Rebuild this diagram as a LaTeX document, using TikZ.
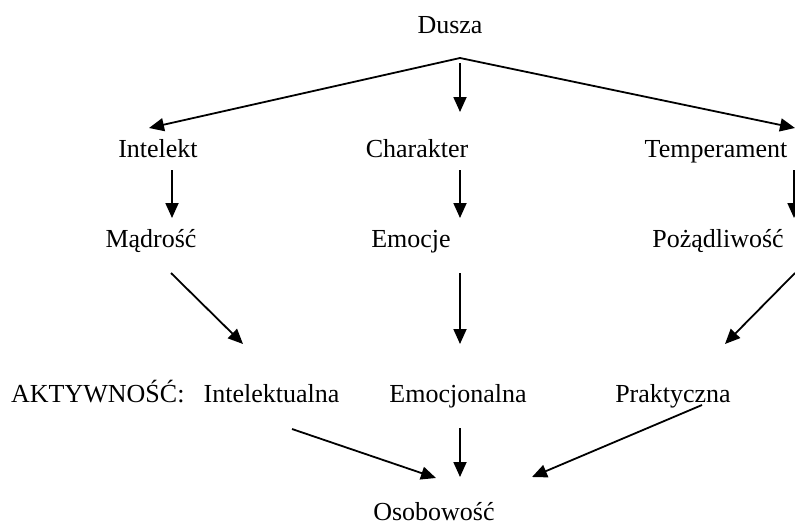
\documentclass[tikz,border=0pt]{standalone}
\usepackage{fontspec}
\setmainfont{Liberation Serif}
\usetikzlibrary{arrows.meta}
\begin{document}
\begin{tikzpicture}[x=1pt,y=-1pt,
  lbl/.style={anchor=base, inner sep=0pt, font=\fontsize{26}{30}\selectfont},
  arr/.style={line width=1.8pt, -{Triangle[length=15pt,width=13pt]}}]
\useasboundingbox (0,0) rectangle (795,525);
% texts
\node[lbl] (dusza) at (450,33) {Dusza};
\node[lbl] (intelekt) at (158,157) {Intelekt};
\node[lbl] (charakter) at (417,157) {Charakter};
\node[lbl] (temperament) at (716,157) {Temperament};
\node[lbl] (madrosc) at (151,247) {Mądrość};
\node[lbl] (emocje) at (411,247) {Emocje};
\node[lbl] (pozadliwosc) at (718,247) {Pożądliwość};
\node[lbl, anchor=base west] (aktywnosc) at (11,402) {AKTYWNOŚĆ:};
\node[lbl] (intelektualna) at (271.5,402) {Intelektualna};
\node[lbl] (emocjonalna) at (458,402) {Emocjonalna};
\node[lbl] (praktyczna) at (673,402) {Praktyczna};
\node[lbl] (osobowosc) at (434,520) {Osobowość};
% arrow end points
\coordinate (apex) at (460,58);
\coordinate (l1) at (149,128);
\coordinate (r1) at (795,128);
\coordinate (m1s) at (460,63);
\coordinate (m1e) at (460,112);
\coordinate (l2s) at (172,170);
\coordinate (l2e) at (172,218);
\coordinate (m2s) at (460,170);
\coordinate (m2e) at (460,218);
\coordinate (r2s) at (794,170);
\coordinate (r2e) at (794,218);
\coordinate (l3s) at (171,273);
\coordinate (l3e) at (243,344);
\coordinate (m3s) at (460,273);
\coordinate (m3e) at (460,344);
\coordinate (r3s) at (795,273);
\coordinate (r3e) at (725,344);
\coordinate (l4s) at (292,429);
\coordinate (l4e) at (436,478);
\coordinate (m4s) at (460,428);
\coordinate (m4e) at (460,477);
\coordinate (r4s) at (702,405);
\coordinate (r4e) at (532,477);
% arrows
\draw[arr, line join=miter] (apex) -- (l1);
\draw[arr, line join=miter] (apex) -- (r1);
\draw[arr] (m1s) -- (m1e);
\draw[arr] (l2s) -- (l2e);
\draw[arr] (m2s) -- (m2e);
\draw[arr] (r2s) -- (r2e);
\draw[arr] (l3s) -- (l3e);
\draw[arr] (m3s) -- (m3e);
\draw[arr] (r3s) -- (r3e);
\draw[arr] (l4s) -- (l4e);
\draw[arr] (m4s) -- (m4e);
\draw[arr] (r4s) -- (r4e);
\end{tikzpicture}
\end{document}
